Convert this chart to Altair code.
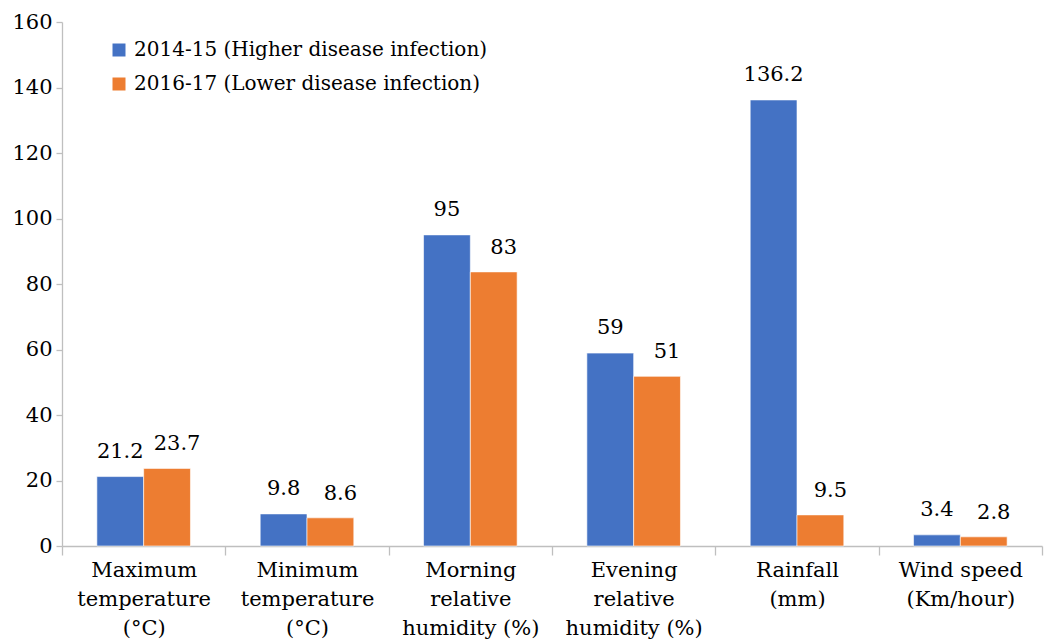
import altair as alt
import pandas as pd

categories = [
    "Maximum|temperature|(°C)",
    "Minimum|temperature|(°C)",
    "Morning|relative|humidity (%)",
    "Evening|relative|humidity (%)",
    "Rainfall|(mm)",
    "Wind speed|(Km/hour)",
]
series = ["2014-15 (Higher disease infection)", "2016-17 (Lower disease infection)"]
values_2014 = [21.2, 9.8, 95.0, 58.9, 136.2, 3.4]
values_2016 = [23.7, 8.6, 83.7, 51.8, 9.5, 2.8]
labels_2014 = ["21.2", "9.8", "95", "59", "136.2", "3.4"]
labels_2016 = ["23.7", "8.6", "83", "51", "9.5", "2.8"]
colors = ["#4472C4", "#ED7D31"]

rows = []
for c, v, l in zip(categories, values_2014, labels_2014):
    rows.append({"cat": c, "series": series[0], "value": v, "label": l})
for c, v, l in zip(categories, values_2016, labels_2016):
    rows.append({"cat": c, "series": series[1], "value": v, "label": l})
df = pd.DataFrame(rows)

FONT = "DejaVu Serif"

x = alt.X(
    "cat:N",
    sort=categories,
    scale=alt.Scale(paddingInner=0, paddingOuter=0),
    axis=alt.Axis(
        title=None,
        labelExpr="split(datum.label, '|')",
        labelAngle=0,
        labelFont=FONT,
        labelFontSize=21,
        labelColor="#000000",
        labelLineHeight=29,
        labelPadding=4,
        labelBaseline="top",
        labelLimit=300,
        tickBand="extent",
        tickSize=9,
        tickColor="#BFBFBF",
        domainColor="#BFBFBF",
        domainWidth=1.3,
        tickWidth=1.3,
        grid=False,
    ),
)
xo = alt.XOffset(
    "series:N",
    sort=series,
    scale=alt.Scale(paddingInner=0, paddingOuter=0.745),
)
y = alt.Y(
    "value:Q",
    scale=alt.Scale(domain=[0, 160], nice=False),
    axis=alt.Axis(
        title=None,
        values=[0, 20, 40, 60, 80, 100, 120, 140, 160],
        labelFont=FONT,
        labelFontSize=21,
        labelColor="#000000",
        labelPadding=4,
        tickSize=6,
        tickColor="#BFBFBF",
        domainColor="#BFBFBF",
        domainWidth=1.3,
        tickWidth=1.3,
        grid=False,
    ),
)

bars = alt.Chart(df).mark_bar(stroke="#FFFFFF", strokeWidth=0.6).encode(
    x=x,
    xOffset=xo,
    y=y,
    color=alt.Color(
        "series:N",
        sort=series,
        scale=alt.Scale(domain=series, range=colors),
        legend=alt.Legend(
            title=None,
            orient="none",
            legendX=47,
            legendY=18,
            symbolType="square",
            symbolSize=169,
            symbolStrokeWidth=0,
            labelFont=FONT,
            labelFontSize=20,
            labelColor="#000000",
            labelLimit=600,
            rowPadding=14,
            labelOffset=5,
        ),
    ),
)

text_2014 = alt.Chart(df).transform_filter(
    alt.datum.series == series[0]
).mark_text(
    baseline="alphabetic", dy=-19, font=FONT, fontSize=21, color="#000000"
).encode(x=x, xOffset=xo, y=y, text="label:N")

text_2016 = alt.Chart(df).transform_filter(
    alt.datum.series == series[1]
).mark_text(
    baseline="alphabetic", dy=-18, dx=10, font=FONT, fontSize=21, color="#000000"
).encode(x=x, xOffset=xo, y=y, text="label:N")

chart = (
    alt.layer(bars, text_2014, text_2016)
    .properties(
        width=980,
        height=524,
        autosize=alt.AutoSizeParams(type="none"),
        padding={"left": 62, "top": 22, "right": 2, "bottom": 95},
    )
    .configure_view(stroke=None)
)

chart.save("out.html", embed_options={"renderer": "svg", "actions": False})
